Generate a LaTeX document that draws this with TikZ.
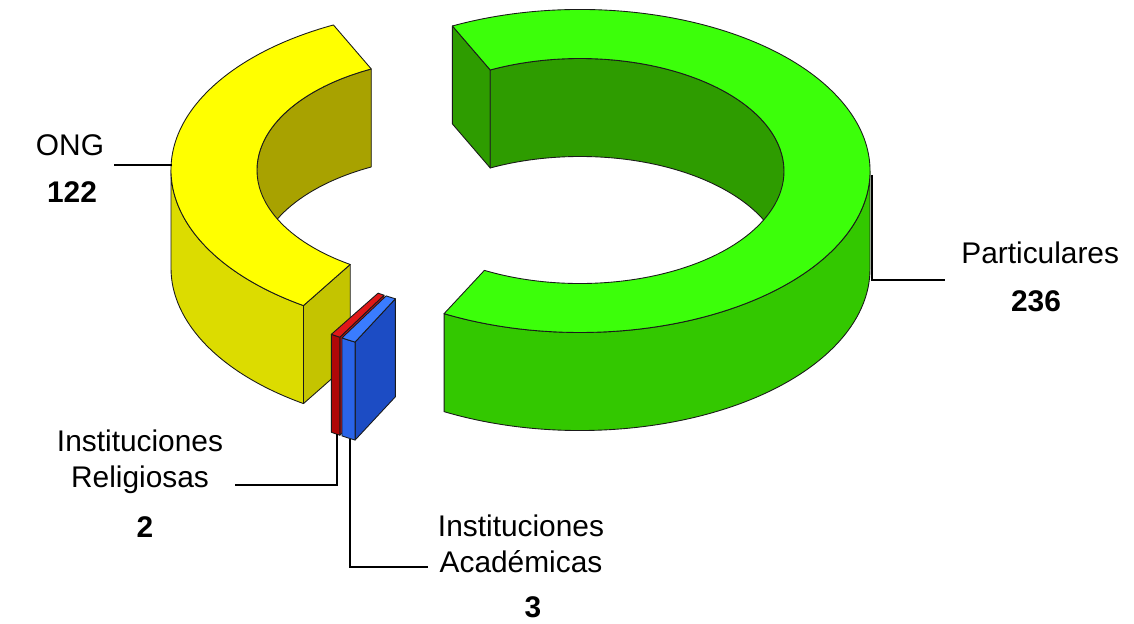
\documentclass[tikz,border=0pt]{standalone}
\usepackage{fontspec}
\setmainfont{Liberation Sans}
\definecolor{edge}{HTML}{1A1A1A}
\definecolor{gTop}{HTML}{3CFF0A}
\definecolor{gOut}{HTML}{33C800}
\definecolor{gIn}{HTML}{2E9C00}
\definecolor{yTop}{HTML}{FFFF00}
\definecolor{yOut}{HTML}{DCDC00}
\definecolor{yEnd}{HTML}{C4C400}
\definecolor{yIn}{HTML}{A8A200}
\definecolor{rTop}{HTML}{E01818}
\definecolor{rOut}{HTML}{B00808}
\definecolor{rEnd}{HTML}{C81010}
\definecolor{bTop}{HTML}{3A7CFF}
\definecolor{bOut}{HTML}{2A64E8}
\definecolor{bEnd}{HTML}{1C4CC4}
\begin{document}
\begin{tikzpicture}[x=0.02cm,y=-0.02cm,
  face/.style={draw=edge,line width=0.5pt,line join=round},
  ro/.style={x radius=290,y radius=161.5},
  ri/.style={x radius=204,y radius=112.5},
  lead/.style={draw=black,line width=0.8pt},
  lbl/.style={font=\fontsize{17}{20}\selectfont,inner sep=0pt,anchor=base},
  num/.style={font=\fontsize{17}{20}\selectfont\bfseries,inner sep=0pt,anchor=base}]
\useasboundingbox (0,0) rectangle (1134,624);
\fill[white] (0,0) rectangle (1134,624);
% ---------- Particulares (green)
\begin{scope}[shift={(580,171)}]
  \fill[gIn,face] (-116.1:290 and 161.5) ++(0,98) -- (-116.1:290 and 161.5) -- (-116.1:204 and 112.5) -- ++(0,98) -- cycle;
  \fill[gIn,face] (-116.1:204 and 112.5) arc[ri,start angle=-116.1,end angle=0] -- ++(0,98) arc[ri,start angle=0,end angle=-116.1] -- cycle;
  \fill[gOut,face] (0:290 and 161.5) arc[ro,start angle=0,end angle=117.95] -- ++(0,98) arc[ro,start angle=117.95,end angle=0] -- cycle;
  \fill[gTop,face] (-116.1:290 and 161.5) arc[ro,start angle=-116.1,end angle=117.95] -- (117.95:204 and 112.5) arc[ri,start angle=117.95,end angle=-116.1] -- cycle;
\end{scope}
% ---------- ONG (yellow)
\begin{scope}[shift={(461,170)}]
  \fill[yEnd,face] (122.9:290 and 161.5) ++(0,98) -- (122.9:290 and 161.5) -- (122.9:204 and 112.5) -- ++(0,98) -- cycle;
  \fill[yIn,face] (180:204 and 112.5) arc[ri,start angle=180,end angle=243.9] -- ++(0,98) arc[ri,start angle=243.9,end angle=180] -- cycle;
  \fill[yOut,face] (122.9:290 and 161.5) arc[ro,start angle=122.9,end angle=180] -- ++(0,98) arc[ro,start angle=180,end angle=122.9] -- cycle;
  \fill[yTop,face] (122.9:290 and 161.5) arc[ro,start angle=122.9,end angle=243.9] -- (243.9:204 and 112.5) arc[ri,start angle=243.9,end angle=122.9] -- cycle;
\end{scope}
% ---------- Instituciones Religiosas (red)
\begin{scope}[shift={(488.9,198.7)}]
  \fill[rEnd,face] (120.93:290 and 161.5) ++(0,98) -- (120.93:290 and 161.5) -- (120.93:204 and 112.5) -- ++(0,98) -- cycle;
  \fill[rOut,face] (120.93:290 and 161.5) arc[ro,start angle=120.93,end angle=122.9] -- ++(0,98) arc[ro,start angle=122.9,end angle=120.93] -- cycle;
  \fill[rTop,face] (120.93:290 and 161.5) arc[ro,start angle=120.93,end angle=122.9] -- (122.9:204 and 112.5) arc[ri,start angle=122.9,end angle=120.93] -- cycle;
\end{scope}
% ---------- Instituciones Academicas (blue)
\begin{scope}[shift={(491,199.4)}]
  \fill[bEnd,face] (117.95:290 and 161.5) ++(0,98) -- (117.95:290 and 161.5) -- (117.95:204 and 112.5) -- ++(0,98) -- cycle;
  \fill[bOut,face] (117.95:290 and 161.5) arc[ro,start angle=117.95,end angle=120.93] -- ++(0,98) arc[ro,start angle=120.93,end angle=117.95] -- cycle;
  \fill[bTop,face] (117.95:290 and 161.5) arc[ro,start angle=117.95,end angle=120.93] -- (120.93:204 and 112.5) arc[ri,start angle=120.93,end angle=117.95] -- cycle;
\end{scope}
% ---------- labels
\node[lbl] (ongT) at (70,156) {ONG};
\node[num] (ongN) at (72,203) {122};
\coordinate (ongA) at (172,165);
\coordinate (ongB) at (114,165);
\draw[lead] (ongA) -- (ongB);

\node[lbl,anchor=base west] (parT) at (961,264) {Particulares};
\node[num] (parN) at (1036,312) {236};
\coordinate (parA) at (872,175);
\coordinate (parB) at (872,280);
\coordinate (parC) at (945,280);
\draw[lead] (parA) -- (parB) -- (parC);

\node[lbl] (relT1) at (140,452) {Instituciones};
\node[lbl] (relT2) at (140,488) {Religiosas};
\node[num] (relN) at (145,538) {2};
\coordinate (relA) at (337,434);
\coordinate (relB) at (337,485);
\coordinate (relC) at (235,485);
\draw[lead] (relA) -- (relB) -- (relC);

\node[lbl] (acaT1) at (521,537) {Instituciones};
\node[lbl] (acaT2) at (521,573) {Académicas};
\node[num] (acaN) at (533,618) {3};
\coordinate (acaA) at (350,439);
\coordinate (acaB) at (350,567);
\coordinate (acaC) at (428,567);
\draw[lead] (acaA) -- (acaB) -- (acaC);
\end{tikzpicture}
\end{document}
